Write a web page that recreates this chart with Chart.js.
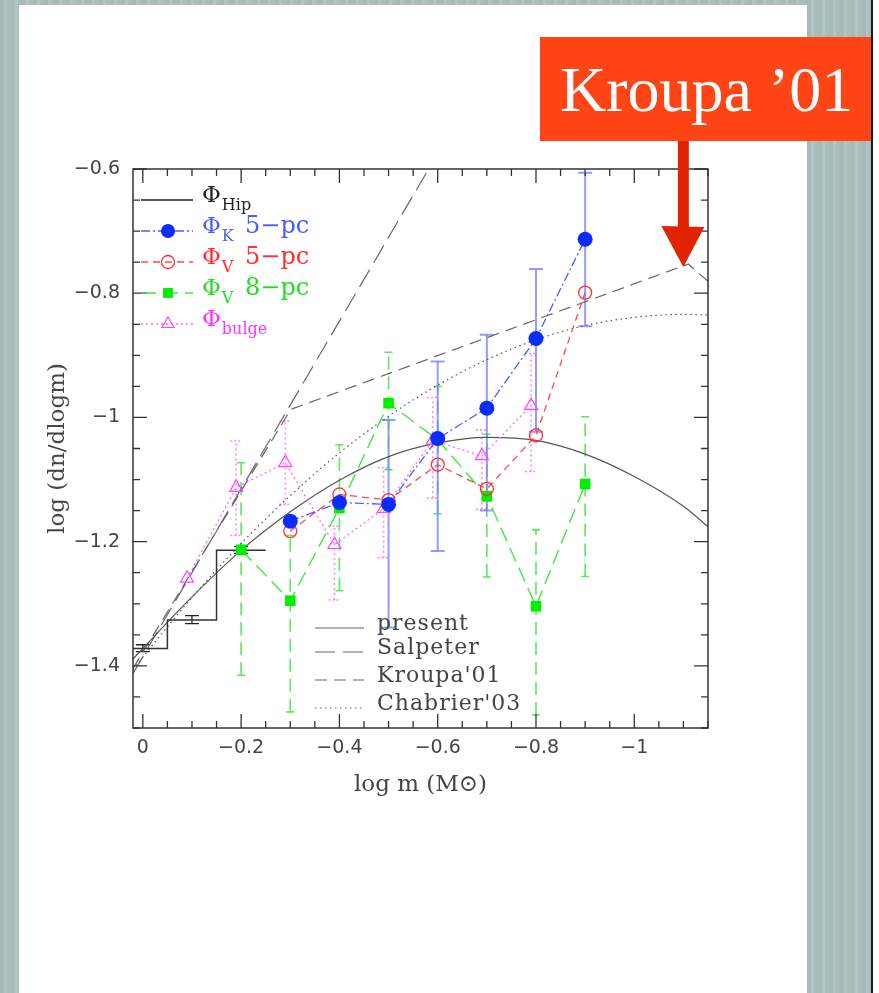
<!DOCTYPE html>
<html>
<head>
<meta charset="utf-8">
<script src="https://cdn.jsdelivr.net/npm/chart.js@4.4.1/dist/chart.umd.min.js"></script>
<style>
  html, body { margin: 0; padding: 0; background: #fff; }
  #page { position: relative; width: 879px; height: 993px; background: #fff; overflow: hidden; }
  .strip { position: absolute;
    background: repeating-linear-gradient(90deg, #a6bab7 0px, #a6bab7 4px, #b3c5c2 4px, #b3c5c2 7px, #a9bdba 7px, #a9bdba 11px); }
  #c { position: absolute; left: 0; top: 0; }
  #note { position: absolute; left: 540px; top: 37px; width: 331px; height: 104px; box-sizing: border-box;
    padding-left: 20px; padding-top: 2px; background: #ff4516; color: #fff; font-family: 'Liberation Serif', serif;
    font-size: 64px; line-height: 102px; white-space: nowrap; }
</style>
</head>
<body>
<div id="page">
  <div class="strip" style="left:0;top:0;width:19px;height:993px"></div>
  <div class="strip" style="left:0;top:0;width:807px;height:5px"></div>
  <div class="strip" style="left:807px;top:0;width:64px;height:993px"></div>
  <div style="position:absolute;left:871px;top:0;width:2px;height:993px;background:#1a1a1a"></div>
  <canvas id="c" width="879" height="993"></canvas>
  <div id="note">Kroupa ’01</div>
</div>
<script>
// ---------------- data ----------------
const xTickValues = [0, -0.2, -0.4, -0.6, -0.8, -1];
const xTickLabels = ['0', '−0.2', '−0.4', '−0.6', '−0.8', '−1'];
const yTickValues = [-0.6, -0.8, -1, -1.2, -1.4];
const yTickLabels = ['−0.6', '−0.8', '−1', '−1.2', '−1.4'];

// Phi_K 5-pc and Phi_V 5-pc (log m bins)
const massBins5 = [-0.3, -0.4, -0.5, -0.6, -0.7, -0.8, -0.9];
const phiK5   = [-1.167, -1.137, -1.140, -1.034, -0.985, -0.873, -0.713];
const phiK5Lo = [null, null, -1.338, -1.215, -1.150, -1.023, -0.853];
const phiK5Hi = [null, null, -1.004, -0.910, -0.867, -0.761, -0.606];
const phiV5   = [-1.183, -1.124, -1.133, -1.076, -1.115, -1.029, -0.799];

// Phi_V 8-pc
const massBins8 = [-0.2, -0.3, -0.4, -0.5, -0.6, -0.7, -0.8, -0.9];
const phiV8   = [-1.213, -1.295, -1.146, -0.977, -1.036, -1.127, -1.304, -1.107];
const phiV8Lo = [-1.415, -1.474, -1.279, -1.084, -1.155, -1.257, -1.479, -1.256];
const phiV8Hi = [-1.073, -1.190, -1.044, -0.895, -0.950, -1.027, -1.181, -0.999];

// Phi_bulge
const bulgeBins = [-0.09, -0.19, -0.29, -0.39, -0.49, -0.59, -0.69, -0.79];
const phiBulge   = [-1.259, -1.113, -1.073, -1.205, -1.147, -1.037, -1.062, -0.981];
const phiBulgeLo = [null, -1.190, -1.140, -1.294, -1.226, -1.130, -1.148, -1.087];
const phiBulgeHi = [null, -1.038, -1.006, -1.175, -1.081, -0.968, -1.020, -0.897];

// Phi_Hip (histogram steps + error bars)
const hipStepX = [0.05, -0.05, -0.15, -0.25];
const hipStepY = [-1.372, -1.326, -1.214, -1.214];
const hipBins = [0, -0.1, -0.2];
const hipLo = [-1.377, -1.332, -1.219];
const hipHi = [-1.366, -1.319, -1.208];

// model curves
const presentX = [0.02, 0, -0.1, -0.2, -0.3, -0.4, -0.5, -0.6, -0.7, -0.8, -0.9, -1.0, -1.1, -1.15];
const presentY = [-1.389, -1.372, -1.289, -1.214, -1.152, -1.101, -1.063, -1.041, -1.032, -1.037, -1.059, -1.095, -1.143, -1.176];
const salpeterX = [0.02, -0.6];
const salpeterY = [-1.412, -0.575];
const kroupaX = [0.02, -0.301, -1.11, -1.15];
const kroupaY = [-1.404, -0.987, -0.753, -0.781];
const chabrierX = [0.02, 0, -0.1, -0.2, -0.3, -0.4, -0.5, -0.6, -0.7, -0.8, -0.9, -1.0, -1.1, -1.15];
const chabrierY = [-1.406, -1.386, -1.290, -1.203, -1.126, -1.057, -0.998, -0.948, -0.907, -0.875, -0.852, -0.839, -0.834, -0.835];

// ---------------- helpers ----------------
const pts = (xs, ys) => xs.map((x, i) => ({ x: x, y: ys[i] }));
const labelFor = (vals, labs) => v => {
  const i = vals.findIndex(t => Math.abs(t - v) < 1e-6);
  return i >= 0 ? labs[i] : '';
};

const errorSets = [
  { x: hipBins, lo: hipLo, hi: hipHi, color: '#222', width: 1.3, dash: [], capDash: [], cap: 14 },
  { x: bulgeBins, lo: phiBulgeLo, hi: phiBulgeHi, color: '#ff88ff', width: 1.6, dash: [2, 3], capDash: [2, 2], cap: 12 },
  { x: massBins8, lo: phiV8Lo, hi: phiV8Hi, color: '#5de85d', width: 1.6, dash: [13, 7], capDash: [], cap: 8 },
  { x: massBins5, lo: phiK5Lo, hi: phiK5Hi, color: 'rgba(120,130,255,0.8)', width: 2, dash: [], capDash: [], cap: 14 }
];

const errorBarPlugin = {
  id: 'errorBars',
  beforeDatasetsDraw(chart) {
    const { ctx, chartArea: a, scales: { x, y } } = chart;
    ctx.save();
    ctx.beginPath(); ctx.rect(a.left, a.top, a.right - a.left, a.bottom - a.top); ctx.clip();
    errorSets.forEach(s => {
      ctx.strokeStyle = s.color; ctx.lineWidth = s.width;
      s.x.forEach((xv, i) => {
        if (s.lo[i] == null || s.hi[i] == null) return;
        const px = x.getPixelForValue(xv);
        const p1 = y.getPixelForValue(s.lo[i]);
        const p2 = y.getPixelForValue(s.hi[i]);
        ctx.setLineDash(s.dash);
        ctx.beginPath(); ctx.moveTo(px, p1); ctx.lineTo(px, p2); ctx.stroke();
        ctx.setLineDash(s.capDash);
        ctx.beginPath();
        ctx.moveTo(px - s.cap / 2, p1); ctx.lineTo(px + s.cap / 2, p1);
        ctx.moveTo(px - s.cap / 2, p2); ctx.lineTo(px + s.cap / 2, p2);
        ctx.stroke();
      });
    });
    ctx.restore();
  }
};

const framePlugin = {
  id: 'frame',
  afterDatasetsDraw(chart) {
    const { ctx, chartArea: a, scales: { x, y } } = chart;
    ctx.save();
    ctx.strokeStyle = '#333'; ctx.lineWidth = 1.5; ctx.setLineDash([]);
    ctx.strokeRect(a.left, a.top, a.right - a.left, a.bottom - a.top);
    ctx.lineWidth = 1.3;
    ctx.beginPath();
    for (let k = 0; k <= 23; k++) {
      const v = -k * 0.05;
      const px = x.getPixelForValue(v);
      const len = (k % 4 === 0) ? 14 : 7;
      ctx.moveTo(px, a.bottom); ctx.lineTo(px, a.bottom - len);
      ctx.moveTo(px, a.top); ctx.lineTo(px, a.top + len);
    }
    for (let k = 0; k <= 18; k++) {
      const v = -0.6 - k * 0.05;
      const py = y.getPixelForValue(v);
      const len = (k % 4 === 0) ? 14 : 7;
      ctx.moveTo(a.left, py); ctx.lineTo(a.left + len, py);
      ctx.moveTo(a.right, py); ctx.lineTo(a.right - len, py);
    }
    ctx.stroke();
    ctx.restore();
  }
};

function marker(ctx, kind, x, y, r, fill, stroke, lw) {
  ctx.save();
  ctx.setLineDash([]);
  ctx.beginPath();
  if (kind === 'circle') ctx.arc(x, y, r, 0, Math.PI * 2);
  else if (kind === 'rect') { const s = r * Math.SQRT1_2; ctx.rect(x - s, y - s, 2 * s, 2 * s); }
  else if (kind === 'triangle') {
    const w = r * Math.sqrt(3);
    ctx.moveTo(x, y - r); ctx.lineTo(x + w / 2, y + r / 2); ctx.lineTo(x - w / 2, y + r / 2); ctx.closePath();
  }
  if (fill) { ctx.fillStyle = fill; ctx.fill(); }
  if (stroke) { ctx.strokeStyle = stroke; ctx.lineWidth = lw; ctx.stroke(); }
  ctx.restore();
}

const legendPlugin = {
  id: 'legends',
  afterDraw(chart) {
    const { ctx, chartArea: a, scales: { x, y } } = chart;
    ctx.save();
    ctx.textBaseline = 'alphabetic';
    ctx.textAlign = 'left';
    // upper-left legend
    const rows = [
      { dy: 31, color: '#222', tcolor: '#222', dash: [], sub: 'Hip', extra: '', mk: null },
      { dy: 62, color: '#4a5cff', tcolor: '#4a5cff', dash: [9, 3, 2, 3], sub: 'K', extra: '5−pc', mk: ['circle', 7, '#0a2cff', null, 0] },
      { dy: 93, color: '#ff4a4a', tcolor: '#ff3030', dash: [7, 5], sub: 'V', extra: '5−pc', mk: ['circle', 6.5, null, '#ff3030', 1.3] },
      { dy: 124, color: '#3ee83e', tcolor: '#22dd22', dash: [15, 7], sub: 'V', extra: '8−pc', mk: ['rect', 7, '#00ee00', null, 0] },
      { dy: 155, color: '#ff66ff', tcolor: '#ff33ff', dash: [2, 3], sub: 'bulge', extra: '', mk: ['triangle', 7, null, '#ff44ff', 1.2] }
    ];
    rows.forEach(r => {
      const ry = a.top + r.dy;
      ctx.strokeStyle = r.color; ctx.lineWidth = 1.4; ctx.setLineDash(r.dash);
      ctx.beginPath(); ctx.moveTo(a.left + 8, ry); ctx.lineTo(a.left + 60, ry); ctx.stroke();
      ctx.setLineDash([]);
      if (r.mk) marker(ctx, r.mk[0], a.left + 35, ry, r.mk[1], r.mk[2], r.mk[3], r.mk[4]);
      ctx.fillStyle = r.tcolor;
      ctx.font = '23px "DejaVu Serif"';
      ctx.fillText('Φ', a.left + 69, ry + 2);
      const w = ctx.measureText('Φ').width;
      ctx.font = '16px "DejaVu Serif"';
      ctx.fillText(r.sub, a.left + 69 + w + 1, ry + 10);
      if (r.extra) {
        ctx.font = '24px "DejaVu Serif"';
        ctx.fillText(r.extra, a.left + 112, ry + 2);
      }
    });
    // lower-right legend
    const rows2 = [
      { dy: -100, dash: [], text: 'present' },
      { dy: -76, dash: [20, 8], text: 'Salpeter' },
      { dy: -48, dash: [12, 7], text: 'Kroupa\'01' },
      { dy: -20, dash: [1.5, 3.5], text: 'Chabrier\'03' }
    ];
    ctx.font = '22px "DejaVu Serif"';
    try { ctx.letterSpacing = '1px'; } catch (e) {}
    rows2.forEach(r => {
      const ry = a.bottom + r.dy;
      ctx.strokeStyle = '#666'; ctx.lineWidth = 1.2; ctx.setLineDash(r.dash);
      ctx.beginPath(); ctx.moveTo(a.left + 182, ry); ctx.lineTo(a.left + 231, ry); ctx.stroke();
      ctx.setLineDash([]);
      ctx.fillStyle = '#444';
      ctx.fillText(r.text, a.left + 244, ry + 2);
    });
    try { ctx.letterSpacing = '0px'; } catch (e) {}
    // annotation arrow pointing at the Kroupa break
    const tipX = x.getPixelForValue(kroupaX[2]) - 5;
    const tipY = y.getPixelForValue(kroupaY[2]) + 3;
    const headTop = tipY - 41;
    ctx.fillStyle = '#e02300';
    ctx.fillRect(tipX - 5.5, 141, 11, headTop - 141 + 2);
    ctx.beginPath();
    ctx.moveTo(tipX - 22, headTop); ctx.lineTo(tipX + 21, headTop + 1); ctx.lineTo(tipX, tipY); ctx.closePath();
    ctx.fill();
    ctx.restore();
  }
};

const tickFont = { family: 'DejaVu Sans', size: 19 };
const titleFont = { family: 'DejaVu Serif', size: 23 };

const datasets = [
  { data: pts(massBins5, phiK5), borderColor: '#4a5cff', borderWidth: 1.3, borderDash: [9, 3, 2, 3],
    pointStyle: 'circle', pointRadius: 7.5, pointBackgroundColor: '#0a2cff', pointBorderColor: '#0a2cff', pointBorderWidth: 0 },
  { data: pts(massBins5, phiV5), borderColor: '#ff4a4a', borderWidth: 1.3, borderDash: [7, 5],
    pointStyle: 'circle', pointRadius: 6.5, pointBackgroundColor: 'rgba(0,0,0,0)', pointBorderColor: '#ff3030', pointBorderWidth: 1.3 },
  { data: pts(massBins8, phiV8), borderColor: '#3ee83e', borderWidth: 1.4, borderDash: [15, 7],
    pointStyle: 'rect', pointRadius: 7.5, pointBackgroundColor: '#00ee00', pointBorderColor: '#00ee00', pointBorderWidth: 0 },
  { data: pts(bulgeBins, phiBulge), borderColor: '#ff66ff', borderWidth: 1.3, borderDash: [2, 3],
    pointStyle: 'triangle', pointRadius: 7.5, pointBackgroundColor: 'rgba(0,0,0,0)', pointBorderColor: '#ff44ff', pointBorderWidth: 1.2 },
  { data: pts(hipStepX, hipStepY), borderColor: '#333', borderWidth: 1.5, stepped: 'before', pointRadius: 0 },
  { data: pts(presentX, presentY), borderColor: '#555', borderWidth: 1.2, cubicInterpolationMode: 'monotone', pointRadius: 0 },
  { data: pts(salpeterX, salpeterY), borderColor: '#666', borderWidth: 1.2, borderDash: [20, 8], pointRadius: 0 },
  { data: pts(kroupaX, kroupaY), borderColor: '#666', borderWidth: 1.2, borderDash: [12, 7], pointRadius: 0 },
  { data: pts(chabrierX, chabrierY), borderColor: '#555', borderWidth: 1.2, borderDash: [1.5, 3.5], cubicInterpolationMode: 'monotone', pointRadius: 0 }
].map(d => Object.assign({ fill: false, pointHoverRadius: 0 }, d));

new Chart(document.getElementById('c').getContext('2d'), {
  type: 'line',
  data: { datasets: datasets },
  options: {
    responsive: false, animation: false, devicePixelRatio: 1,
    events: [],
    layout: { padding: { left: 0, top: 169, right: 171, bottom: 193 } },
    plugins: { legend: { display: false }, tooltip: { enabled: false } },
    scales: {
      x: {
        type: 'linear', reverse: true, min: -1.15, max: 0.02,
        grid: { display: false, drawTicks: false }, border: { display: false },
        ticks: { autoSkip: false, maxRotation: 0, padding: 9, font: tickFont, color: '#444',
                 callback: labelFor(xTickValues, xTickLabels) },
        afterBuildTicks: s => { s.ticks = xTickValues.map(v => ({ value: v })); },
        afterFit: s => { s.height = 72; },
        title: { display: true, text: 'log m (M⊙)', font: titleFont, color: '#444', padding: { top: 0, bottom: 1 } }
      },
      y: {
        type: 'linear', min: -1.5, max: -0.6,
        grid: { display: false, drawTicks: false }, border: { display: false },
        ticks: { autoSkip: false, padding: 13, font: tickFont, color: '#444',
                 callback: labelFor(yTickValues, yTickLabels) },
        afterBuildTicks: s => { s.ticks = yTickValues.map(v => ({ value: v })); },
        afterFit: s => { s.width = 133; },
        title: { display: true, text: 'log (dn/dlogm)', font: titleFont, color: '#444', padding: { top: 44, bottom: 0 } }
      }
    }
  },
  plugins: [errorBarPlugin, framePlugin, legendPlugin]
});
</script>
</body>
</html>
